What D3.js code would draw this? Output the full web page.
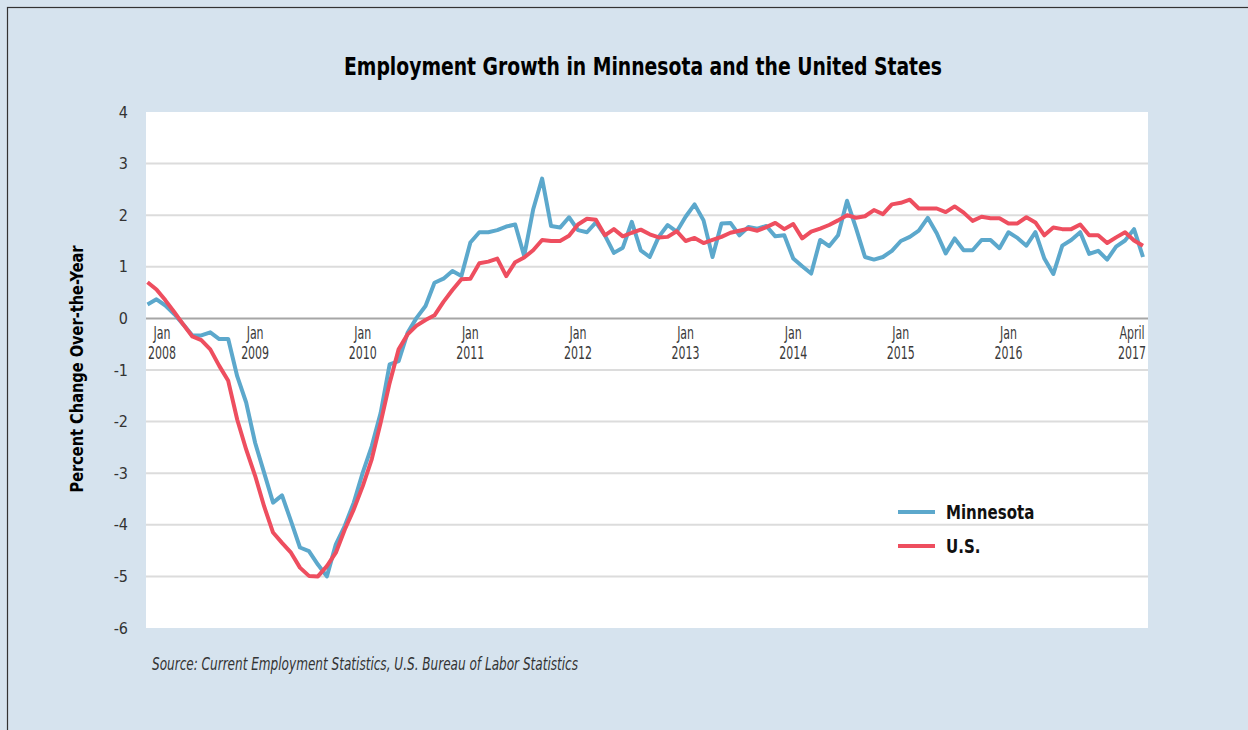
<!DOCTYPE html>
<html>
<head>
<meta charset="utf-8">
<script src="https://cdn.jsdelivr.net/npm/d3@7"></script>
<style>
  body { margin: 0; background: #d6e3ee; }
  svg text { font-family: "Liberation Sans Narrow", "DejaVu Sans Condensed", "Open Sans", sans-serif; font-stretch: condensed; }
</style>
</head>
<body>
<svg id="chart" width="1248" height="730"></svg>
<script>
var width = 1248, height = 730;
var margin = {top: 112, right: 100, bottom: 102, left: 146};

// monthly over-the-year % change, Jan 2008 .. Apr 2017
var minnesota = [
  0.27, 0.37, 0.25, 0.08, -0.12, -0.33, -0.33, -0.27, -0.40, -0.40, -1.12, -1.63,
  -2.41, -2.99, -3.57, -3.43, -3.93, -4.44, -4.51, -4.77, -5.00, -4.38, -4.02, -3.57,
  -2.99, -2.48, -1.83, -0.89, -0.83, -0.28, 0.01, 0.24, 0.69, 0.77, 0.92, 0.82,
  1.47, 1.67, 1.67, 1.71, 1.78, 1.82, 1.21, 2.11, 2.71, 1.79, 1.76, 1.96,
  1.71, 1.67, 1.86, 1.61, 1.27, 1.37, 1.87, 1.32, 1.19, 1.58, 1.81, 1.68,
  1.97, 2.21, 1.90, 1.19, 1.84, 1.85, 1.61, 1.77, 1.74, 1.79, 1.59, 1.61,
  1.16, 1.01, 0.87, 1.52, 1.40, 1.61, 2.28, 1.75, 1.19, 1.14, 1.19, 1.31,
  1.50, 1.58, 1.70, 1.95, 1.65, 1.26, 1.55, 1.32, 1.32, 1.52, 1.52, 1.36,
  1.67, 1.56, 1.41, 1.67, 1.16, 0.86, 1.41, 1.52, 1.67, 1.25, 1.31, 1.14,
  1.39, 1.51, 1.73, 1.19
];
var us = [
  0.70, 0.56, 0.35, 0.12, -0.12, -0.35, -0.42, -0.60, -0.92, -1.21, -1.96, -2.54,
  -3.05, -3.64, -4.15, -4.35, -4.54, -4.83, -4.99, -5.00, -4.80, -4.54, -4.09, -3.70,
  -3.25, -2.73, -2.02, -1.25, -0.60, -0.31, -0.14, -0.03, 0.06, 0.32, 0.55, 0.76,
  0.77, 1.07, 1.10, 1.16, 0.82, 1.09, 1.18, 1.32, 1.52, 1.50, 1.50, 1.60,
  1.82, 1.93, 1.91, 1.61, 1.73, 1.59, 1.66, 1.72, 1.63, 1.57, 1.58, 1.69,
  1.50, 1.56, 1.46, 1.52, 1.58, 1.66, 1.70, 1.74, 1.70, 1.77, 1.85, 1.73,
  1.83, 1.55, 1.68, 1.74, 1.81, 1.90, 2.00, 1.95, 1.98, 2.10, 2.02, 2.21,
  2.24, 2.30, 2.13, 2.13, 2.13, 2.06, 2.17, 2.05, 1.89, 1.97, 1.94, 1.94,
  1.84, 1.84, 1.96, 1.86, 1.61, 1.76, 1.73, 1.73, 1.82, 1.61, 1.61, 1.46,
  1.57, 1.67, 1.51, 1.41
];
var yTicks = [4, 3, 2, 1, 0, -1, -2, -3, -4, -5, -6];
var xLabels = [
  {m: 0, top: "Jan", bottom: "2008"}, {m: 12, top: "Jan", bottom: "2009"},
  {m: 24, top: "Jan", bottom: "2010"}, {m: 36, top: "Jan", bottom: "2011"},
  {m: 48, top: "Jan", bottom: "2012"}, {m: 60, top: "Jan", bottom: "2013"},
  {m: 72, top: "Jan", bottom: "2014"}, {m: 84, top: "Jan", bottom: "2015"},
  {m: 96, top: "Jan", bottom: "2016"}, {m: 111, top: "April", bottom: "2017"}
];
var seriesNames = ["Minnesota", "U.S."];
var seriesColors = ["#5ca8cc", "#ee4e5f"];

var svg = d3.select("#chart");
var plotW = width - margin.left - margin.right,
    plotH = height - margin.top - margin.bottom;

// background + frame
svg.append("rect").attr("x", 0).attr("y", 0).attr("width", width).attr("height", height).attr("fill", "#d6e3ee");
svg.append("rect").attr("x", 7.5).attr("y", 7.5).attr("width", width + 20).attr("height", height + 20)
  .attr("fill", "none").attr("stroke", "#333").attr("stroke-width", 1.2);

var x = d3.scaleLinear().domain([0, minnesota.length - 1]).range([1.5, plotW - 5]);
var y = d3.scaleLinear().domain([-6, 4]).range([plotH, 0]);

var g = svg.append("g").attr("transform", "translate(" + margin.left + "," + margin.top + ")");

g.append("rect").attr("width", plotW).attr("height", plotH).attr("fill", "#fff");

// gridlines
g.selectAll(".grid").data(yTicks.filter(function(d) { return d !== 0 && d !== -6 && d !== 4; }))
  .enter().append("line")
  .attr("x1", 0).attr("x2", plotW)
  .attr("y1", function(d) { return y(d); }).attr("y2", function(d) { return y(d); })
  .attr("stroke", "#dcdcdc").attr("stroke-width", 2);

// y axis labels (plain hyphen minus like the original)
var yAxis = d3.axisLeft(y).tickValues(yTicks).tickSize(0).tickPadding(18)
  .tickFormat(function(d) { return String(d); });
var ya = g.append("g").call(yAxis);
ya.select(".domain").remove();
ya.selectAll("text").attr("font-size", 16).attr("fill", "#333").style("font-family", null);

// zero line
g.append("line").attr("x1", 0).attr("x2", plotW).attr("y1", y(0)).attr("y2", y(0))
  .attr("stroke", "#a6a6a6").attr("stroke-width", 2);

// x labels, kept inside the plot
var labScale = 0.72;
var xl = g.selectAll(".xlab").data(xLabels).enter().append("text")
  .attr("text-anchor", "middle").attr("font-size", 17).attr("fill", "#3a3a3a");
xl.append("tspan").attr("x", 0).attr("dy", 0).text(function(d) { return d.top; });
xl.append("tspan").attr("x", 0).attr("dy", 20).text(function(d) { return d.bottom; });
xl.each(function(d) {
  var w = this.getBBox().width * labScale;
  var cx = Math.max(w / 2 + 2, Math.min(plotW - w / 2 - 2, x(d.m)));
  d3.select(this).attr("transform", "translate(" + cx + "," + (y(0) + 21) + ") scale(" + labScale + ",1)");
});

// lines
var line = d3.line().x(function(d, i) { return x(i); }).y(function(d) { return y(d); });
[minnesota, us].forEach(function(s, i) {
  g.append("path").datum(s).attr("d", line)
    .attr("fill", "none").attr("stroke", seriesColors[i])
    .attr("stroke-width", 4).attr("stroke-linejoin", "round");
});

// legend
var legend = svg.selectAll(".legend").data(seriesNames).enter().append("g")
  .attr("transform", function(d, i) { return "translate(898," + (512 + i * 34) + ")"; });
legend.append("line").attr("x1", 0).attr("x2", 37).attr("y1", 0).attr("y2", 0)
  .attr("stroke", function(d, i) { return seriesColors[i]; }).attr("stroke-width", 4);
legend.append("text").attr("transform", "translate(48,0) scale(0.88,1)").attr("dy", "0.35em").attr("font-size", 19)
  .attr("font-weight", "bold").attr("fill", "#111").text(function(d) { return d; });

// titles
svg.append("text").attr("transform", "translate(643,75) scale(0.87,1)").attr("text-anchor", "middle")
  .attr("font-size", 24).attr("font-weight", "bold").attr("fill", "#000")
  .text("Employment Growth in Minnesota and the United States");

svg.append("text").attr("transform", "translate(83,369) rotate(-90) scale(0.9,1)").attr("text-anchor", "middle")
  .attr("font-size", 18).attr("font-weight", "bold").attr("fill", "#000")
  .text("Percent Change Over-the-Year");

svg.append("text").attr("transform", "translate(152,670) scale(0.79,1)")
  .attr("font-size", 17).attr("font-style", "italic").attr("fill", "#333")
  .text("Source: Current Employment Statistics, U.S. Bureau of Labor Statistics");
</script>
</body>
</html>
